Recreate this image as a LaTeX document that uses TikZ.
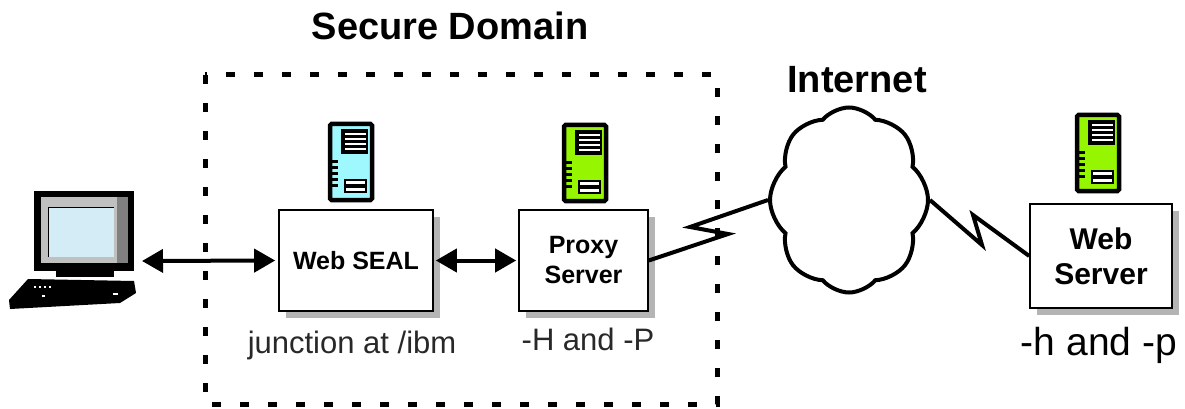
\documentclass[tikz,border=0pt]{standalone}
\usepackage{fontspec}
\setmainfont{Liberation Sans}
\usetikzlibrary{arrows.meta,shapes.symbols,shadows}

\definecolor{sealcyan}{RGB}{160,248,255}
\definecolor{limegreen}{RGB}{150,245,0}
\definecolor{screenblue}{RGB}{212,236,246}
\definecolor{bezel}{RGB}{192,192,192}
\definecolor{bezeldark}{RGB}{128,128,128}
\definecolor{shade}{RGB}{180,180,180}
\definecolor{labelgray}{RGB}{40,40,40}

\tikzset{
  % tower server glyph, origin at its top-left corner
  pics/srv/.style={code={
    \draw[line width=4.5pt, fill=#1, rounded corners=1.5pt] (2,2) rectangle (44,78);
    \fill[black] (13,7) rectangle (40,32);
    \foreach \yy in {12,17,22,27} \draw[white, line width=1.6pt] (17,\yy) -- (38,\yy);
    \foreach \yy in {38,44,50,56,62} \fill[black] (4,\yy) rectangle (10,\yy+3);
    \draw[line width=1.2pt, fill=white] (17,58) rectangle (38,63);
    \draw[line width=1.2pt, fill=white] (17,65) rectangle (38,70);
  }}
}

\begin{document}
\begin{tikzpicture}[x=1pt, y=-1pt,
  box/.style={draw=black, line width=1.6pt, fill=white, inner sep=0pt,
    align=center,
    drop shadow={shadow xshift=7pt, shadow yshift=-7pt, fill=shade, opacity=1}},
  boxtext/.style={font=\fontsize{25}{30}\selectfont\bfseries},
  bigboxtext/.style={font=\fontsize{30}{35}\selectfont\bfseries},
  title/.style={font=\fontsize{38}{44}\selectfont\bfseries, inner sep=0pt},
  lbl/.style={font=\fontsize{31}{36}\selectfont, text=labelgray, inner sep=0pt},
  biglbl/.style={font=\fontsize{39}{44}\selectfont, inner sep=0pt},
  dbl/.style={line width=4pt,
    {Triangle[length=21pt,width=23pt]}-{Triangle[length=21pt,width=23pt]}},
  bolt/.style={line width=4pt, miter limit=25},
  frameline/.style={line width=5pt, dash pattern=on 9pt off 19pt}
]
\useasboundingbox (0,0) rectangle (1185,409);

% secure domain frame
\draw[frameline] (205,75) rectangle (717,404);
\node[title, anchor=base] (sd) at (450,40) {Secure Domain};
\node[title, anchor=base] (inet) at (857,93) {Internet};

% client workstation
\fill[black] (34,191) rectangle (134,271);
\fill[bezel] (41,197) rectangle (117,263);
\fill[bezeldark] (117,197) rectangle (128,263);
\fill[screenblue] (48,207) rectangle (114,257);
\draw[black, line width=1pt] (48,257) -- (48,207) -- (114,207);
\fill[black] (56,271) rectangle (114,277);
\fill[black] (28,279) -- (134,281) -- (136,293) -- (120,303) -- (10,309) -- (9,300) -- cycle;
\foreach \kx in {34,39,44,49} \fill[white] (\kx,286) rectangle (\kx+2,288);
\fill[white] (42,295) rectangle (45,297);
\fill[white] (113,293) rectangle (118,295);
\coordinate (pcport) at (142,261);

% boxes
\node[box, boxtext, minimum width=154pt, minimum height=101pt] (seal) at (356,260.5) {Web SEAL};
\node[box, boxtext, minimum width=129pt, minimum height=101pt] (proxy) at (583.5,260.5) {Proxy\\Server};
\node[box, bigboxtext, minimum width=142pt, minimum height=104pt] (web) at (1101,256) {Web\\Server};

% server glyphs
\pic at (328,122) {srv=sealcyan};
\pic at (562,123) {srv=limegreen};
\pic at (1075,113) {srv=limegreen};

% labels under the boxes
\node[lbl, anchor=base] (jn) at (352,353) {junction at /ibm};
\node[lbl, anchor=base] (hp) at (588,350) {-H and -P};
\node[biglbl, anchor=base] (hpw) at (1099,355) {-h and -p};

% internet cloud
\node[cloud, cloud puffs=8, cloud puff arc=100, aspect=0.85, shape border rotate=22.5,
      draw, line width=4pt,
      minimum width=158pt, minimum height=185pt, inner sep=0pt] (net) at (849,200) {};

% connections
\draw[dbl, shorten >=3pt] (pcport) -- (seal.west);
\draw[dbl, shorten <=2pt, shorten >=2pt] (seal.east) -- (proxy.west);

\coordinate (z1) at (728,234);
\coordinate (z2) at (690,227);
\draw[bolt] (proxy.east) -- (z1) -- (z2) -- (net.west);
\coordinate (z3) at (982,245);
\coordinate (z4) at (973,215);
\draw[bolt] (net.east) -- (z3) -- (z4) -- (web.west);
\end{tikzpicture}
\end{document}
